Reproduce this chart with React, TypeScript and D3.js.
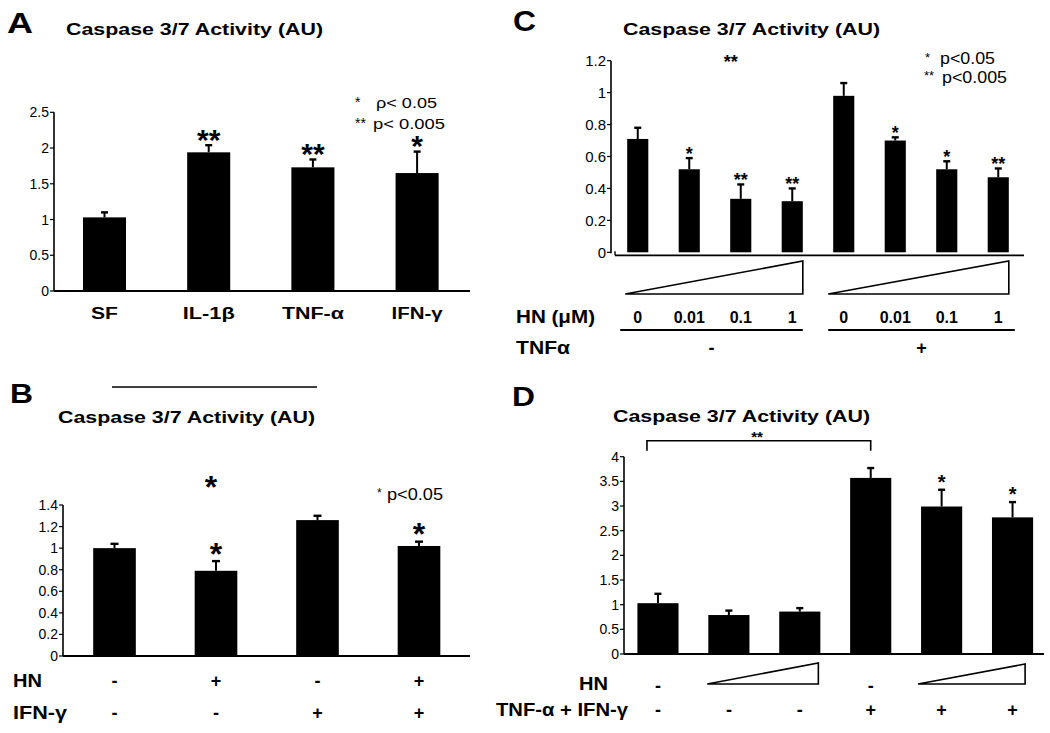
import React from "react";
import * as d3 from "d3";

const FONT = "'Liberation Sans', Arial, Helvetica, sans-serif";
const STAR_MID = 0.42;

// ---------- Panel A ----------
const aCategories = ["SF", "IL-1β", "TNF-α", "IFN-γ"];
const aValues = [1.03, 1.94, 1.73, 1.65];
const aErrors = [0.07, 0.1, 0.11, 0.3];
const aStars = ["", "**", "**", "*"];
const aTicks = [0, 0.5, 1, 1.5, 2, 2.5];
const aTickLabels = ["0", "0.5", "1", "1.5", "2", "2.5"];

// ---------- Panel B ----------
const bGroups = ["g1", "g2", "g3", "g4"];
const bValues = [1.0, 0.79, 1.26, 1.02];
const bErrors = [0.04, 0.09, 0.04, 0.04];
const bStars = ["", "*", "", "*"];
const bTopStarValue = 1.585;
const bHN = ["-", "+", "-", "+"];
const bIFN = ["-", "-", "+", "+"];
const bTicks = [0, 0.2, 0.4, 0.6, 0.8, 1, 1.2, 1.4];
const bTickLabels = ["0", "0.2", "0.4", "0.6", "0.8", "1", "1.2", "1.4"];

// ---------- Panel C ----------
const cGroups = ["c1", "c2", "c3", "c4", "c5", "c6", "c7", "c8"];
const cDoses = ["0", "0.01", "0.1", "1", "0", "0.01", "0.1", "1"];
const cValues = [0.71, 0.52, 0.335, 0.32, 0.98, 0.7, 0.52, 0.47];
const cErrors = [0.07, 0.07, 0.09, 0.08, 0.08, 0.02, 0.05, 0.055];
const cStars = ["", "*", "**", "**", "", "*", "*", "**"];
const cTNF = ["-", "+"];
const cTicks = [0, 0.2, 0.4, 0.6, 0.8, 1, 1.2];
const cTickLabels = ["0", "0.2", "0.4", "0.6", "0.8", "1", "1.2"];

// ---------- Panel D ----------
const dGroups = ["d1", "d2", "d3", "d4", "d5", "d6"];
const dValues = [1.03, 0.79, 0.86, 3.57, 2.99, 2.77];
const dErrors = [0.19, 0.09, 0.07, 0.2, 0.34, 0.31];
const dStars = ["", "", "", "", "*", "*"];
const dHN = ["-", "ramp", "ramp", "-", "ramp", "ramp"];
const dTNF = ["-", "-", "-", "+", "+", "+"];
const dTicks = [0, 0.5, 1, 1.5, 2, 2.5, 3, 3.5, 4];
const dTickLabels = ["0", "0.5", "1", "1.5", "2", "2.5", "3", "3.5", "4"];

// ---------- scales ----------
const xA = d3.scaleBand<string>().domain(aCategories).range([52.4, 469.2]).paddingInner(0.587).paddingOuter(0.2935);
const yA = d3.scaleLinear().domain([0, 2.5]).range([291, 112.3]);

const xB = d3.scaleBand<string>().domain(bGroups).range([63.75, 469.75]).paddingInner(0.58).paddingOuter(0.29);
const yB = d3.scaleLinear().domain([0, 1.4]).range([656, 505]);

const xC = d3.scaleBand<string>().domain(cGroups).range([612, 1024]).paddingInner(0.59).paddingOuter(0.295);
const yC = d3.scaleLinear().domain([0, 1.2]).range([252.3, 60.7]);

const xD = d3.scaleBand<string>().domain(dGroups).range([622.5, 1048]).paddingInner(0.42).paddingOuter(0.21);
const yD = d3.scaleLinear().domain([0, 4]).range([654, 456.7]);

type TP = {
  x: number;
  y: number;
  children: React.ReactNode;
  size?: number;
  bold?: boolean;
  anchor?: "start" | "middle" | "end";
  w?: number;
};
function T({ x, y, children, size = 14, bold = false, anchor = "start", w }: TP) {
  const extra: any = w ? { textLength: w, lengthAdjust: "spacingAndGlyphs" } : {};
  return (
    <text
      x={x}
      y={y}
      fontSize={size}
      fontWeight={bold ? "bold" : "normal"}
      textAnchor={anchor}
      fontFamily={FONT}
      fill="#000"
      {...extra}
    >
      {children}
    </text>
  );
}

function YAxis({
  x,
  scale,
  ticks,
  labels,
  size = 14,
  top,
  bottom,
}: {
  x: number;
  scale: d3.ScaleLinear<number, number>;
  ticks: number[];
  labels: string[];
  size?: number;
  top: number;
  bottom: number;
}) {
  return (
    <g>
      <line x1={x} x2={x} y1={top} y2={bottom} stroke="#000" strokeWidth={1.6} />
      {ticks.map((t, i) => (
        <g key={i}>
          <line x1={x - 4} x2={x} y1={scale(t)} y2={scale(t)} stroke="#000" strokeWidth={1.2} />
          <T x={x - 5} y={scale(t) + size * 0.36} size={size} anchor="end">
            {labels[i]}
          </T>
        </g>
      ))}
    </g>
  );
}

function Bars({
  xs,
  ys,
  keys,
  values,
  errors,
  cap,
}: {
  xs: d3.ScaleBand<string>;
  ys: d3.ScaleLinear<number, number>;
  keys: string[];
  values: number[];
  errors: number[];
  cap: number;
}) {
  const bw = xs.bandwidth();
  const y0 = ys(0);
  return (
    <g>
      {keys.map((k, i) => {
        const x = xs(k)!;
        const cx = x + bw / 2;
        const yt = ys(values[i]);
        const ye = ys(values[i] + errors[i]);
        return (
          <g key={k}>
            <rect x={x} y={yt} width={bw} height={y0 - yt} fill="#000" />
            <line x1={cx} x2={cx} y1={yt} y2={ye} stroke="#000" strokeWidth={2} />
            <line x1={cx - cap / 2} x2={cx + cap / 2} y1={ye} y2={ye} stroke="#000" strokeWidth={2.4} />
          </g>
        );
      })}
    </g>
  );
}

function Stars({
  xs,
  ys,
  keys,
  values,
  errors,
  stars,
  size,
  offset,
}: {
  xs: d3.ScaleBand<string>;
  ys: d3.ScaleLinear<number, number>;
  keys: string[];
  values: number[];
  errors: number[];
  stars: string[];
  size: number;
  offset: number;
}) {
  const bw = xs.bandwidth();
  return (
    <g>
      {keys.map((k, i) =>
        stars[i] ? (
          <T
            key={k}
            x={xs(k)! + bw / 2}
            y={ys(values[i] + errors[i]) - offset + size * STAR_MID}
            size={size}
            bold
            anchor="middle"
          >
            {stars[i]}
          </T>
        ) : null
      )}
    </g>
  );
}

function Ramp({ x0, x1, yb, yt }: { x0: number; x1: number; yb: number; yt: number }) {
  return (
    <path
      d={`M${x0},${yb} L${x1},${yt} L${x1},${yb} Z`}
      fill="#fff"
      stroke="#000"
      strokeWidth={1.6}
      strokeLinejoin="miter"
    />
  );
}

export default function App() {
  const bwA = xA.bandwidth();
  const bwB = xB.bandwidth();
  const bwC = xC.bandwidth();
  const bwD = xD.bandwidth();
  const cc = (k: string) => xC(k)! + bwC / 2;
  const dc = (k: string) => xD(k)! + bwD / 2;
  const bc = (k: string) => xB(k)! + bwB / 2;

  const cLeftStart = xC(cGroups[0])! - 7;
  const cLeftEnd = xC(cGroups[3])! + bwC;
  const cRightStart = xC(cGroups[4])! - 5;
  const cRightEnd = xC(cGroups[7])! + bwC + 6;

  return (
    <svg
      width={1050}
      height={733}
      viewBox="0 0 1050 733"
      style={{ position: "absolute", left: 0, top: 0, background: "#fff" }}
    >
      <rect x={0} y={0} width={1050} height={733} fill="#fff" />

      {/* ================= Panel A ================= */}
      <T x={7} y={33} size={29} bold w={26}>
        A
      </T>
      <T x={66} y={35} size={17} bold w={257}>
        Caspase 3/7 Activity (AU)
      </T>
      <T x={355} y={107} size={14}>
        *
      </T>
      <T x={376} y={108} size={15} w={61}>
        ρ&lt; 0.05
      </T>
      <T x={355} y={128} size={14}>
        **
      </T>
      <T x={373} y={128.5} size={15} w={72}>
        p&lt; 0.005
      </T>
      <YAxis x={54} scale={yA} ticks={aTicks} labels={aTickLabels} size={14} top={yA(2.5)} bottom={yA(0)} />
      <line x1={54} x2={470} y1={yA(0)} y2={yA(0)} stroke="#000" strokeWidth={1.8} />
      <Bars xs={xA} ys={yA} keys={aCategories} values={aValues} errors={aErrors} cap={7} />
      <Stars xs={xA} ys={yA} keys={aCategories} values={aValues} errors={aErrors} stars={aStars} size={30} offset={8} />
      {aCategories.map((c, i) => (
        <T key={c} x={xA(c)! + bwA / 2} y={319} size={16} bold anchor="middle" w={[27, 52, 62, 51][i]}>
          {c}
        </T>
      ))}

      {/* ================= Panel B ================= */}
      <line x1={112} x2={317} y1={387} y2={387} stroke="#000" strokeWidth={1.5} />
      <T x={10} y={403} size={28} bold w={23}>
        B
      </T>
      <T x={58} y={423} size={17} bold w={257}>
        Caspase 3/7 Activity (AU)
      </T>
      <T x={377} y={497} size={12}>
        *
      </T>
      <T x={387} y={500} size={16} w={56}>
        p&lt;0.05
      </T>
      <YAxis x={63} scale={yB} ticks={bTicks} labels={bTickLabels} size={14} top={yB(1.4)} bottom={yB(0)} />
      <line x1={63} x2={470} y1={yB(0)} y2={yB(0)} stroke="#000" strokeWidth={1.8} />
      <Bars xs={xB} ys={yB} keys={bGroups} values={bValues} errors={bErrors} cap={8} />
      <Stars xs={xB} ys={yB} keys={bGroups} values={bValues} errors={bErrors} stars={bStars} size={32} offset={10} />
      <T x={bc(bGroups[1]) - 5} y={yB(bTopStarValue) + 32 * STAR_MID} size={32} bold anchor="middle">
        *
      </T>
      <T x={13} y={687} size={18} bold w={29}>
        HN
      </T>
      <T x={13} y={719} size={18} bold w={54}>
        IFN-γ
      </T>
      {bGroups.map((g, i) => (
        <g key={g}>
          <T x={bc(g)} y={687} size={18} bold anchor="middle">
            {bHN[i]}
          </T>
          <T x={bc(g)} y={719} size={18} bold anchor="middle">
            {bIFN[i]}
          </T>
        </g>
      ))}

      {/* ================= Panel C ================= */}
      <T x={513} y={31} size={29} bold w={23}>
        C
      </T>
      <T x={623} y={35} size={17} bold w={257}>
        Caspase 3/7 Activity (AU)
      </T>
      <T x={925} y={62} size={13}>
        *
      </T>
      <T x={940} y={64} size={17} w={55}>
        p&lt;0.05
      </T>
      <T x={924} y={80} size={13}>
        **
      </T>
      <T x={942} y={83} size={17} w={65}>
        p&lt;0.005
      </T>
      <YAxis x={611} scale={yC} ticks={cTicks} labels={cTickLabels} size={15} top={yC(1.2)} bottom={yC(0) + 1} />
      <line x1={615} x2={1024} y1={yC(0) + 3} y2={yC(0) + 3} stroke="#000" strokeWidth={1.8} />
      <line x1={615} x2={615} y1={yC(0) + 3} y2={yC(0) - 1} stroke="#000" strokeWidth={1.4} />
      <Bars xs={xC} ys={yC} keys={cGroups} values={cValues} errors={cErrors} cap={7} />
      <Stars xs={xC} ys={yC} keys={cGroups} values={cValues} errors={cErrors} stars={cStars} size={18} offset={6} />
      <T x={cc(cGroups[2]) - 10} y={yC(1.2) + 18 * STAR_MID} size={18} bold anchor="middle">
        **
      </T>
      <Ramp x0={cLeftStart + 5} x1={cLeftEnd} yb={294} yt={261} />
      <Ramp x0={cRightStart} x1={cRightEnd - 6} yb={294} yt={261} />
      <T x={516} y={323} size={18} bold w={79}>
        HN (μM)
      </T>
      {cGroups.map((g, i) => (
        <T key={g} x={cc(g)} y={323} size={16} bold anchor="middle">
          {cDoses[i]}
        </T>
      ))}
      <line x1={cLeftStart} x2={cLeftEnd} y1={330} y2={330} stroke="#000" strokeWidth={1.8} />
      <line x1={cRightStart} x2={cRightEnd} y1={330} y2={330} stroke="#000" strokeWidth={1.8} />
      <T x={516} y={354} size={18} bold w={54}>
        TNFα
      </T>
      <T x={(cLeftStart + cLeftEnd) / 2} y={354} size={18} bold anchor="middle">
        {cTNF[0]}
      </T>
      <T x={(cRightStart + cRightEnd) / 2} y={354} size={18} bold anchor="middle">
        {cTNF[1]}
      </T>

      {/* ================= Panel D ================= */}
      <T x={512} y={406} size={28} bold w={23}>
        D
      </T>
      <T x={613} y={422} size={17} bold w={257}>
        Caspase 3/7 Activity (AU)
      </T>
      <path
        d={`M${dc(dGroups[0]) - 11},${yD(4) - 6} L${dc(dGroups[0]) - 11},${yD(4) - 16} L${dc(dGroups[3])},${yD(4) - 16} L${dc(dGroups[3])},${yD(4) - 6}`}
        fill="none"
        stroke="#000"
        strokeWidth={1.6}
      />
      <T x={757} y={yD(4) - 21.5 + 15 * STAR_MID} size={15} bold anchor="middle">
        **
      </T>
      <YAxis x={624} scale={yD} ticks={dTicks} labels={dTickLabels} size={14} top={yD(4)} bottom={yD(0)} />
      <line x1={624} x2={1044} y1={yD(0)} y2={yD(0)} stroke="#000" strokeWidth={1.8} />
      <Bars xs={xD} ys={yD} keys={dGroups} values={dValues} errors={dErrors} cap={7} />
      <Stars xs={xD} ys={yD} keys={dGroups} values={dValues} errors={dErrors} stars={dStars} size={20} offset={9} />
      <Ramp x0={xD(dGroups[1])! - 1} x1={xD(dGroups[2])! + bwD - 2} yb={684} yt={663} />
      <Ramp x0={xD(dGroups[4])! - 3} x1={xD(dGroups[5])! + bwD - 8} yb={684} yt={664} />
      <T x={608} y={690} size={19} bold anchor="end" w={29}>
        HN
      </T>
      <T x={628} y={716} size={18} bold anchor="end" w={132}>
        TNF-α + IFN-γ
      </T>
      {dGroups.map((g, i) => (
        <g key={g}>
          {dHN[i] !== "ramp" ? (
            <T x={dc(g)} y={692} size={18} bold anchor="middle">
              {dHN[i]}
            </T>
          ) : null}
          <T x={dc(g)} y={716} size={18} bold anchor="middle">
            {dTNF[i]}
          </T>
        </g>
      ))}
    </svg>
  );
}
